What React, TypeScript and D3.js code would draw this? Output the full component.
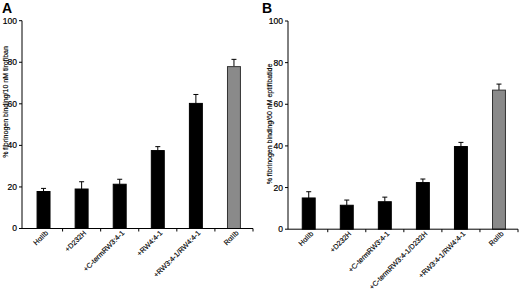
import React from "react";
import * as d3 from "d3";

const categoriesA = ["HαIIb", "+D232H", "+C-termRW3:4-1", "+RW4:4-1", "+RW3:4-1/RW4:4-1", "RαIIb"];
const valuesA = [17.8, 19.0, 21.3, 37.5, 60.2, 77.9];
const errorsA = [1.5, 3.5, 2.4, 1.9, 4.3, 3.5];

const categoriesB = ["HαIIb", "+D232H", "+C-termRW3:4-1", "+C-termRW3:4-1/D232H", "+RW3:4-1/RW4:4-1", "RαIIb"];
const valuesB = [15.0, 11.5, 13.2, 22.4, 39.7, 66.8];
const errorsB = [3.0, 2.5, 2.2, 1.7, 2.0, 2.9];

const yTicks = [0, 20, 40, 60, 80, 100];

const FONT = "'Liberation Sans', Arial, Helvetica, sans-serif";

type PanelProps = {
  letter: string;
  letterX: number;
  axisX: number;
  xStart: number;
  xEnd: number;
  y0: number;
  y100: number;
  cats: string[];
  vals: number[];
  errs: number[];
  title: string;
  titleX: number;
  titleY: number;
};

function Panel(p: PanelProps) {
  const x = d3.scaleBand<string>().domain(p.cats).range([p.xStart, p.xEnd]).padding(0);
  const y = d3.scaleLinear().domain([0, 100]).range([p.y0, p.y100]);
  const bw = x.bandwidth() * 0.34;
  const boundaries = p.cats.map((c) => (x(c) as number) + x.bandwidth());
  return (
    <g>
      <text x={p.letterX} y={13} fontFamily={FONT} fontWeight="bold" fontSize={14} fill="#000">
        {p.letter}
      </text>
      <text
        transform={`translate(${p.titleX},${p.titleY}) rotate(-90)`}
        textAnchor="middle"
        fontFamily={FONT}
        fontSize={7}
        fill="#000"
        stroke="#000"
        strokeWidth={0.15}
      >
        {p.title}
      </text>
      {p.cats.map((c, i) => {
        const cx = (x(c) as number) + x.bandwidth() / 2;
        const isGray = i === p.cats.length - 1;
        const top = y(p.vals[i]);
        const et = y(p.vals[i] + p.errs[i]);
        return (
          <g key={c}>
            <line x1={cx} x2={cx} y1={top} y2={et} stroke="#000" strokeWidth={1} />
            <line x1={cx - 2.5} x2={cx + 2.5} y1={et} y2={et} stroke="#000" strokeWidth={1} />
            <rect
              x={cx - bw / 2}
              y={top}
              width={bw}
              height={p.y0 - top}
              fill={isGray ? "#8a8a8a" : "#000"}
              stroke={isGray ? "#333" : "#000"}
              strokeWidth={1}
            />
          </g>
        );
      })}
      <line x1={p.axisX} x2={p.axisX} y1={p.y100} y2={p.y0} stroke="#000" strokeWidth={1} />
      {yTicks.map((t) => (
        <g key={t}>
          <line x1={p.axisX - 3} x2={p.axisX} y1={y(t)} y2={y(t)} stroke="#000" strokeWidth={1} />
          <text
            x={p.axisX - 5}
            y={y(t)}
            dy="0.35em"
            textAnchor="end"
            fontFamily={FONT}
            fontSize={8.5}
            fill="#000"
            stroke="#000"
            strokeWidth={0.2}
          >
            {t}
          </text>
        </g>
      ))}
      <line x1={p.axisX} x2={p.xEnd} y1={p.y0} y2={p.y0} stroke="#000" strokeWidth={1} />
      {boundaries.map((b, i) => (
        <line key={i} x1={b} x2={b} y1={p.y0} y2={p.y0 + 3} stroke="#000" strokeWidth={1} />
      ))}
      {p.cats.map((c) => {
        const cx = (x(c) as number) + x.bandwidth() / 2;
        return (
          <text
            key={c}
            transform={`translate(${cx + 5},${p.y0 + 5}) rotate(-45)`}
            textAnchor="end"
            fontFamily={FONT}
            fontSize={7.2}
            fill="#000"
            stroke="#000"
            strokeWidth={0.15}
          >
            {c}
          </text>
        );
      })}
    </g>
  );
}

export default function App() {
  return (
    <svg
      width={520}
      height={291}
      style={{ position: "absolute", left: 0, top: 0, background: "#fff" }}
    >
      <rect width={520} height={291} fill="#fff" />
      <Panel
        letter="A"
        letterX={2}
        axisX={22}
        xStart={24.5}
        xEnd={253}
        y0={228.5}
        y100={20.7}
        cats={categoriesA}
        vals={valuesA}
        errs={errorsA}
        title="% fibrinogen binding/10 nM tirofiban"
        titleX={8}
        titleY={102}
      />
      <Panel
        letter="B"
        letterX={262}
        axisX={288}
        xStart={289.7}
        xEnd={518}
        y0={229.2}
        y100={21}
        cats={categoriesB}
        vals={valuesB}
        errs={errorsB}
        title="% fibrinogen binding/60 nM eptifibatide"
        titleX={272}
        titleY={124}
      />
    </svg>
  );
}
